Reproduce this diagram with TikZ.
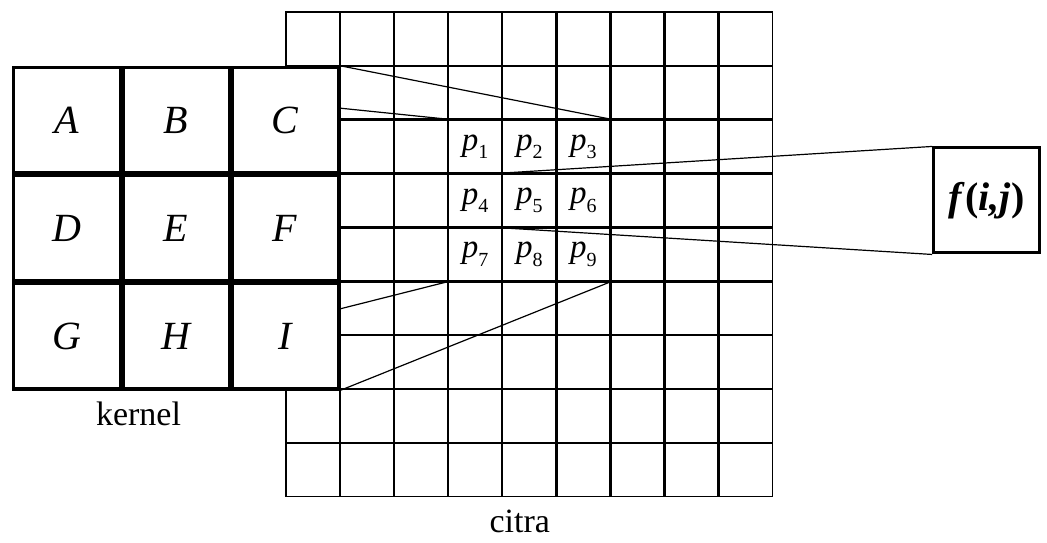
\documentclass[tikz,border=0pt]{standalone}
\usepackage{fontspec}
\setmainfont{Liberation Serif}
\usetikzlibrary{matrix,positioning,calc}

\newcommand{\pel}[1]{\textit{p}\raisebox{-0.55ex}{\fontsize{10}{12}\selectfont #1}}

\begin{document}
\begin{tikzpicture}[
        x=0.5pt, y=-0.5pt,
        imgcell/.style={draw, line width=0.8pt, anchor=center, minimum width=26.65pt, minimum height=26.55pt, inner sep=0pt, font=\fontsize{16.5}{20}\selectfont},
        kcell/.style={draw, line width=1.7pt, anchor=center, fill=white, minimum width=53.2pt, minimum height=52.7pt, inner sep=0pt, font=\fontsize{20}{24}\selectfont\itshape},
        outcell/.style={draw, line width=1.5pt, minimum width=53pt, minimum height=52.5pt, inner sep=0pt, font=\fontsize{20}{24}\selectfont\bfseries},
        link/.style={line width=0.6pt},
        lbl/.style={font=\fontsize{17}{20}\selectfont, inner sep=0pt}
    ]
    \useasboundingbox (0,0) rectangle (1047,542);

% --- Image grid (citra) ---
        \matrix (img) [matrix of nodes, nodes in empty cells, nodes={imgcell}, row sep=-\pgflinewidth, column sep=-\pgflinewidth, inner sep=0pt, anchor=north west] at (285,11) {
            & & & & & & & & \\
            & & & & & & & & \\
            & & & \pel{1} & \pel{2} & \pel{3} & & & \\
            & & & \pel{4} & \pel{5} & \pel{6} & & & \\
            & & & \pel{7} & \pel{8} & \pel{9} & & & \\
            & & & & & & & & \\
            & & & & & & & & \\
            & & & & & & & & \\
            & & & & & & & & \\
        };

% --- Kernel (on top of the grid) ---
        \matrix (K) [matrix of nodes, nodes={kcell}, row sep=-\pgflinewidth, column sep=-\pgflinewidth, inner sep=0pt, anchor=north east] at (img-2-1.north east) {
            A & B & C \\
            D & E & F \\
            G & H & I \\
        };

% --- Kernel onto the image ---
        \coordinate (kc) at ($(K-1-3.north east)!0.39!(K-1-3.south east)$);
        \coordinate (ki) at ($(K-3-3.north east)!0.25!(K-3-3.south east)$);
        \draw[link] (K-1-3.north east) -- (img-3-6.north east);
        \draw[link] (kc) -- (img-3-4.north west);
        \draw[link] (ki) -- (img-5-4.south west);
        \draw[link] (K-3-3.south east) -- (img-5-6.south east);

% --- Result f(i,j) ---
        \node[outcell, right=79.5pt of img-4-9] (f) {\textit{f}(\textit{i,j})};
        \draw[link] (img-4-5.north west) -- (f.north west);
        \draw[link] (img-4-5.south west) -- (f.south west);

% --- Labels ---
        \node[lbl, below=5.5pt of K-3-2, xshift=-18.75pt] (klab) {kernel};
        \node[lbl, below=6pt of img-9-5, xshift=-4.75pt] (clab) {citra};

    \end{tikzpicture}
\end{document}
